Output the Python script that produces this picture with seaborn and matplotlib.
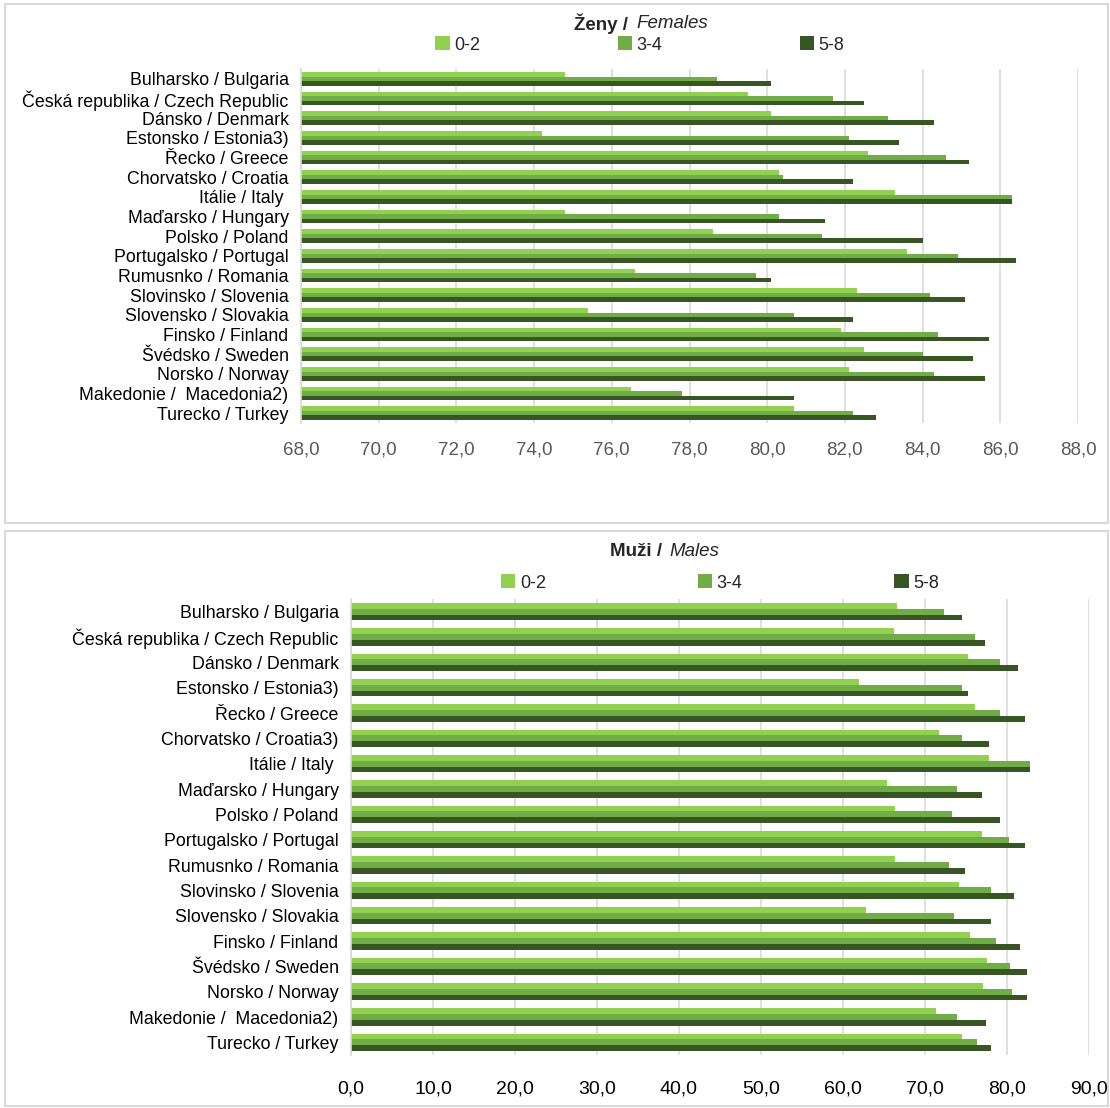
import pandas as pd
import numpy as np
import matplotlib
matplotlib.use("Agg")
import matplotlib.pyplot as plt
import matplotlib.ticker as mt
from matplotlib.patches import Rectangle
import seaborn as sns

# data
groups = ["0-2", "3-4", "5-8"]
countries_f = ["Bulharsko / Bulgaria", "Česká republika / Czech Republic", "Dánsko / Denmark",
               "Estonsko / Estonia3)", "Řecko / Greece", "Chorvatsko / Croatia", "Itálie / Italy ",
               "Maďarsko / Hungary", "Polsko / Poland", "Portugalsko / Portugal", "Rumusnko / Romania",
               "Slovinsko / Slovenia", "Slovensko / Slovakia", "Finsko / Finland", "Švédsko / Sweden",
               "Norsko / Norway", "Makedonie /  Macedonia2)", "Turecko / Turkey"]
countries_m = ["Bulharsko / Bulgaria", "Česká republika / Czech Republic", "Dánsko / Denmark",
               "Estonsko / Estonia3)", "Řecko / Greece", "Chorvatsko / Croatia3)", "Itálie / Italy ",
               "Maďarsko / Hungary", "Polsko / Poland", "Portugalsko / Portugal", "Rumusnko / Romania",
               "Slovinsko / Slovenia", "Slovensko / Slovakia", "Finsko / Finland", "Švédsko / Sweden",
               "Norsko / Norway", "Makedonie /  Macedonia2)", "Turecko / Turkey"]

f02 = [74.8, 79.5, 80.1, 74.2, 82.6, 80.3, 83.3, 74.8, 78.6, 83.6, 76.6, 82.3, 75.4, 81.9, 82.5, 82.1, 76.5, 80.7]
f34 = [78.7, 81.7, 83.1, 82.1, 84.6, 80.4, 86.3, 80.3, 81.4, 84.9, 79.7, 84.2, 80.7, 84.4, 84.0, 84.3, 77.8, 82.2]
f58 = [80.1, 82.5, 84.3, 83.4, 85.2, 82.2, 86.3, 81.5, 84.0, 86.4, 80.1, 85.1, 82.2, 85.7, 85.3, 85.6, 80.7, 82.8]

m02 = [66.6, 66.2, 75.3, 62.0, 76.1, 71.7, 77.8, 65.4, 66.4, 77.0, 66.4, 74.1, 62.8, 75.5, 77.6, 77.1, 71.3, 74.5]
m34 = [72.3, 76.1, 79.2, 74.5, 79.2, 74.5, 82.8, 73.9, 73.3, 80.2, 72.9, 78.0, 73.5, 78.6, 80.4, 80.6, 73.9, 76.3]
m58 = [74.5, 77.3, 81.4, 75.3, 82.2, 77.8, 82.8, 77.0, 79.2, 82.2, 74.9, 80.8, 78.0, 81.6, 82.4, 82.4, 77.4, 78.0]

colors = ["#92D050", "#70AD47", "#375623"]
W, H = 1110, 1108


def long_df(countries, a, b, c):
    df = pd.DataFrame({"country": countries, groups[0]: a, groups[1]: b, groups[2]: c})
    return df.melt(id_vars="country", var_name="group", value_name="value")


def comma_fmt(v, pos):
    return f"{v:.1f}".replace(".", ",")


def fx(px):
    return px / W


def fy(py):
    return 1 - py / H


def draw_panel(fig, rect, df, xlim, step, tick_color, tick_pad, tick_size):
    ax = fig.add_axes(rect)
    sns.barplot(data=df, y="country", x="value", hue="group", orient="h",
                palette=colors, saturation=1, width=0.68, ax=ax, errorbar=None,
                linewidth=0, edgecolor="none")
    ax.set_xlim(*xlim)
    ax.set_xticks(np.arange(xlim[0], xlim[1] + 0.01, step))
    ax.xaxis.set_major_formatter(mt.FuncFormatter(comma_fmt))
    ax.xaxis.grid(True, color="#D9D9D9", lw=1.2)
    ax.yaxis.grid(False)
    ax.set_axisbelow(True)
    ax.set_xlabel("")
    ax.set_ylabel("")
    for s in ["top", "right", "bottom"]:
        ax.spines[s].set_visible(False)
    ax.spines["left"].set_color("#D9D9D9")
    ax.spines["left"].set_linewidth(1.2)
    ax.tick_params(axis="y", length=0, pad=9, labelsize=12.8, labelcolor="black")
    ax.tick_params(axis="x", length=0, pad=tick_pad, labelsize=tick_size, labelcolor=tick_color)
    handles, labels = ax.get_legend_handles_labels()
    ax.get_legend().remove()
    return ax, handles, labels


sns.set_theme(style="white")
plt.rcParams["font.family"] = ["Liberation Sans", "DejaVu Sans"]

fig = plt.figure(figsize=(W / 100, H / 100), dpi=100)

# panel frames
fig.patches.append(Rectangle((fx(5), fy(523)), fx(1108) - fx(5), fy(4) - fy(523),
                             transform=fig.transFigure, fill=False, edgecolor="#D9D9D9", lw=1.5))
fig.patches.append(Rectangle((fx(5), fy(1106)), fx(1108) - fx(5), fy(531) - fy(1106),
                             transform=fig.transFigure, fill=False, edgecolor="#D9D9D9", lw=1.5))

# Females
ax1, h1, l1 = draw_panel(fig, [fx(301), fy(423), fx(1078) - fx(301), fy(69) - fy(423)],
                         long_df(countries_f, f02, f34, f58), (68, 88), 2, "#595959", 13, 13.5)
fig.text(fx(628), fy(24), "Ženy /", ha="right", va="center", fontsize=13.5, fontweight="bold")
fig.text(fx(636), fy(24), "Females", ha="left", va="center", fontsize=13.5, fontstyle="italic")
fig.legend(h1, l1, ncol=3, loc="center", bbox_to_anchor=(fx(640), fy(45)), frameon=False,
           fontsize=13, handlelength=0.8, handleheight=0.8, handletextpad=0.25, columnspacing=7.6)

# Males
ax2, h2, l2 = draw_panel(fig, [fx(351), fy(1055), fx(1089) - fx(351), fy(599) - fy(1055)],
                         long_df(countries_m, m02, m34, m58), (0, 90), 10, "black", 18, 14)
fig.text(fx(662), fy(552), "Muži /", ha="right", va="center", fontsize=13.5, fontweight="bold")
fig.text(fx(669), fy(552), "Males", ha="left", va="center", fontsize=13.5, fontstyle="italic")
fig.legend(h2, l2, ncol=3, loc="center", bbox_to_anchor=(fx(720), fy(583)), frameon=False,
           fontsize=13, handlelength=0.8, handleheight=0.8, handletextpad=0.25, columnspacing=8.4)

fig.savefig("out.png", dpi=100)
